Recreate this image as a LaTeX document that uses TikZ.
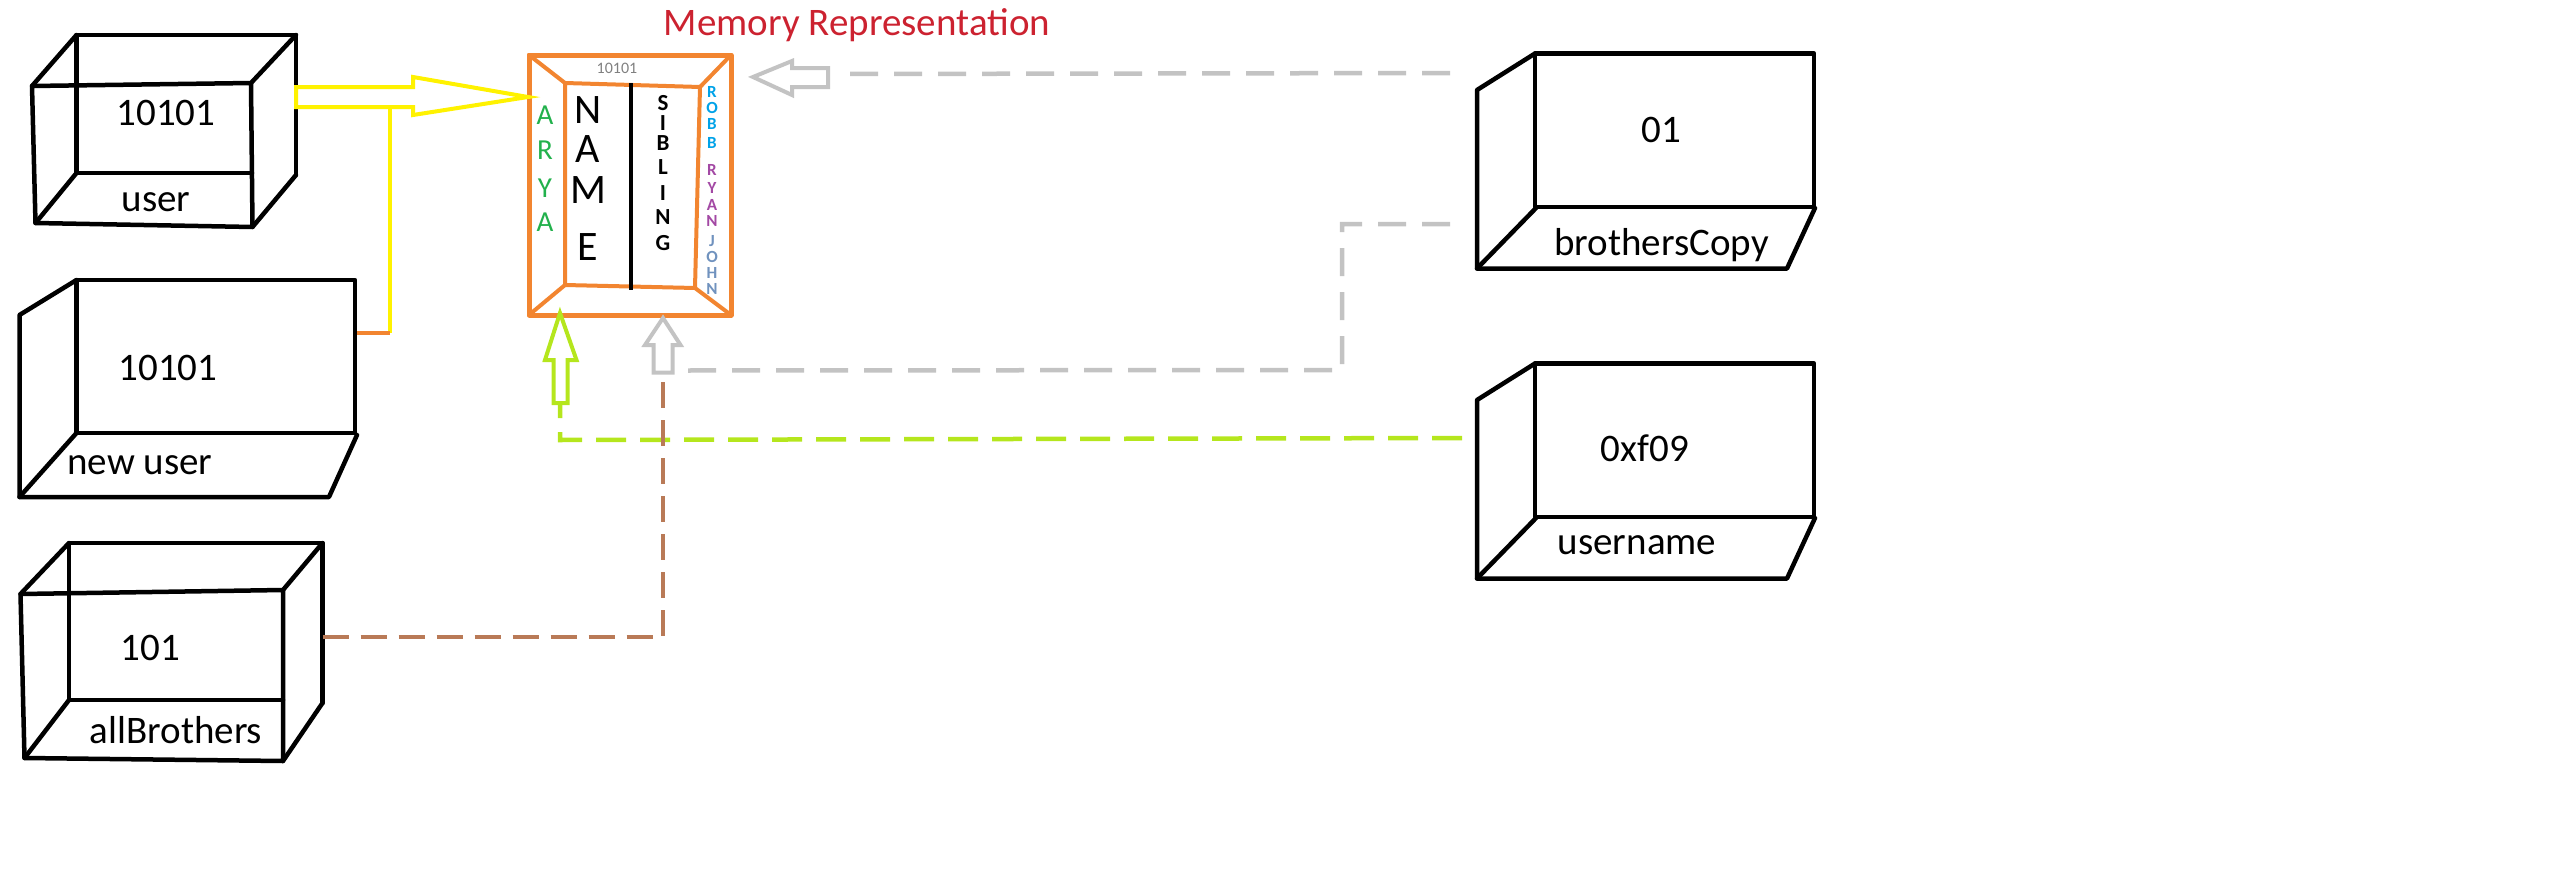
\documentclass[tikz,border=0pt]{standalone}
\usepackage{fontspec}
\setmainfont{Carlito}
\definecolor{morange}{RGB}{242,133,48}
\definecolor{myellow}{RGB}{255,242,0}
\definecolor{mlime}{RGB}{181,230,29}
\definecolor{mgray}{RGB}{195,195,195}
\definecolor{mbrown}{RGB}{185,122,87}
\definecolor{mred}{RGB}{204,34,48}
\definecolor{mgreen}{RGB}{34,177,76}
\definecolor{mblue}{RGB}{0,162,232}
\definecolor{mpurple}{RGB}{163,73,164}
\definecolor{msteel}{RGB}{112,146,190}
\definecolor{mtxtgray}{RGB}{128,128,128}
\tikzset{
  boxline/.style={line width=4.5pt, draw=black, line join=round, line cap=round},
  orangeline/.style={line width=4.5pt, draw=morange, line join=round, line cap=round},
  lbl/.style={font=\fontsize{39}{40}\selectfont, inner sep=0pt, text=black},
  dashconn/.style={line width=4.5pt, dash pattern=on 28pt off 16pt},
  hollowarrow/.style={line width=4pt, line join=miter},
  bigletter/.style={font=\fontsize{42}{42}\selectfont, inner sep=0pt},
  midletter/.style={font=\fontsize{23}{23}\selectfont\bfseries, inner sep=0pt},
  aryaletter/.style={font=\fontsize{29}{29}\selectfont, inner sep=0pt, text=mgreen},
  tinyletter/.style={font=\fontsize{17}{17}\selectfont\bfseries, inner sep=0pt},
}
\begin{document}
\begin{tikzpicture}[x=1pt,y=-1pt]
\useasboundingbox (0,0) rectangle (2560,894);

% ---------- user box (cube) ----------
\draw[boxline] (252,173) -- (76.5,173) -- (76.5,35) -- (296,35) -- (296,175);
\draw[boxline] (32,86) -- (251,83) -- (252.5,227) -- (35.5,223) -- cycle;
\draw[boxline] (32,86) -- (76.5,35);
\draw[boxline] (251,83) -- (296,35);
\draw[boxline] (35.5,223) -- (76.5,173);
\draw[boxline] (252.5,227) -- (296,175);
\node[lbl] (uval) at (166,113) {10101};
\node[lbl] (uname) at (156,202) {user};
\coordinate (userR) at (296,97);

% ---------- new user box ----------
\draw[boxline] (76.5,280) rectangle (355,433);
\draw[boxline] (76.5,280) -- (19.5,315) -- (19.5,497) -- (329,497) -- (357,435);
\draw[boxline] (76.5,433) -- (19.5,497);
\node[lbl] (nval) at (168,368) {10101};
\node[lbl] (nname) at (140,465) {new user};
\coordinate (newR) at (357,333);

% ---------- allBrothers box (cube) ----------
\draw[boxline] (283,700) -- (69,700) -- (69,543) -- (322.5,543) -- (322.5,703);
\draw[boxline] (20.5,594) -- (283,590) -- (283,761) -- (24.5,758) -- cycle;
\draw[boxline] (20.5,594) -- (69,543);
\draw[boxline] (283,590) -- (322.5,543);
\draw[boxline] (24.5,758) -- (69,700);
\draw[boxline] (283,761) -- (322.5,703);
\node[lbl] (aval) at (150.5,648) {101};
\node[lbl] (aname) at (176,730) {allBrothers};
\coordinate (allR) at (322.5,637);

% ---------- brothersCopy box ----------
\draw[boxline] (1535,53.5) rectangle (1814,207);
\draw[boxline] (1535,53.5) -- (1477,90) -- (1477,268.5) -- (1787,268.5) -- (1815,208);
\draw[boxline] (1536,208) -- (1477,268.5);
\node[lbl] (bval) at (1661.5,130) {01};
\node[lbl] (bname) at (1661.5,245) {brothersCopy};
\coordinate (bcTop) at (1450,73);
\coordinate (bcLow) at (1450,224);

% ---------- username box ----------
\draw[boxline] (1535,363.5) rectangle (1814,517);
\draw[boxline] (1535,363.5) -- (1477,400) -- (1477,578.5) -- (1787,578.5) -- (1815,518);
\draw[boxline] (1536,518) -- (1477,578.5);
\node[lbl] (unval) at (1645,448) {0xf09};
\node[lbl] (unname) at (1637,545) {username};
\coordinate (unL) at (1462,438);

% ---------- memory representation ----------
\node[font=\fontsize{39}{40}\selectfont, text=mred, inner sep=0pt, anchor=base] (title) at (857,35) {Memory Representation};
\draw[orangeline, line width=5pt] (529,55) rectangle (731,315);
\draw[orangeline, line width=4pt] (565,83) -- (700,87) -- (695,288) -- (565,285) -- cycle;
\draw[orangeline, line width=4pt] (529,55) -- (565,83);
\draw[orangeline, line width=4pt] (731,55) -- (700,87);
\draw[orangeline, line width=4pt] (731,315) -- (695,288);
\draw[orangeline, line width=4pt] (529,315) -- (565,285);
\draw[line width=4pt, black] (631,83) -- (631,290);
\node[font=\fontsize{16}{16}\selectfont, text=mtxtgray, inner sep=0pt] (maddr) at (617,68) {10101};
\foreach \l/\yy [count=\i] in {A/115,R/150,Y/188,A/222}
  \node[aryaletter] (arya\i) at (545,\yy) {\l};
\foreach \l/\yy [count=\i] in {N/110,A/149,M/190,E/247}
  \node[bigletter] (nm\i) at (588,\yy) {\l};
\foreach \l/\yy [count=\i] in {S/103,I/123,B/143,L/167,I/193,N/217,G/243}
  \node[midletter] (sib\i) at (663,\yy) {\l};
\foreach \l/\yy [count=\i] in {R/92,O/108,B/124,B/143}
  \node[tinyletter, text=mblue] (robb\i) at (712,\yy) {\l};
\foreach \l/\yy [count=\i] in {R/170,Y/188,A/205,N/221}
  \node[tinyletter, text=mpurple] (ryan\i) at (712,\yy) {\l};
\foreach \l/\yy [count=\i] in {J/241,O/257,H/273,N/289}
  \node[tinyletter, text=msteel] (john\i) at (712,\yy) {\l};
\coordinate (memL) at (528,97);
\coordinate (memR) at (753,77);
\coordinate (memB1) at (560,313);
\coordinate (memB2) at (663,318);

% ---------- yellow hollow arrow user -> memory ----------
\draw[hollowarrow, myellow] (userR) ++(0,-10) -- (413,87) -- (413,77) -- (memL) -- (413,115) -- (413,107) -- (296,107) -- cycle;
\draw[line width=4pt, myellow] (390,107) -- (390,333);
\draw[line width=4pt, morange] (390,333) -- (newR);

% ---------- gray hollow arrow brothersCopy -> memory (top) ----------
\draw[hollowarrow, mgray] (memR) -- (792,61) -- (792,68) -- (828,68) -- (828,87) -- (792,87) -- (792,95) -- cycle;
\draw[dashconn, mgray] (bcTop) -- (845,74);

% ---------- lime hollow arrow username -> memory ----------
\draw[hollowarrow, mlime] (memB1) -- (576.5,360) -- (567.5,360) -- (567.5,403) -- (553.5,403) -- (553.5,360) -- (545,360) -- cycle;
\draw[dashconn, mlime, dash pattern=on 30pt off 14pt] (unL) -- (560,440) -- (560,405);

% ---------- gray hollow arrow (bottom) brothersCopy -> memory ----------
\draw[hollowarrow, mgray] (memB2) -- (680.5,345) -- (672.5,345) -- (672.5,372.5) -- (653.5,372.5) -- (653.5,345) -- (645,345) -- cycle;
\draw[dashconn, mgray] (bcLow) -- (1342,224) -- (1342,370) -- (685,370.5);

% ---------- brown dashed allBrothers -> memory ----------
\draw[dashconn, mbrown, dash pattern=on 26pt off 12pt] (allR) -- (663,637) -- (663,382);
\end{tikzpicture}
\end{document}
